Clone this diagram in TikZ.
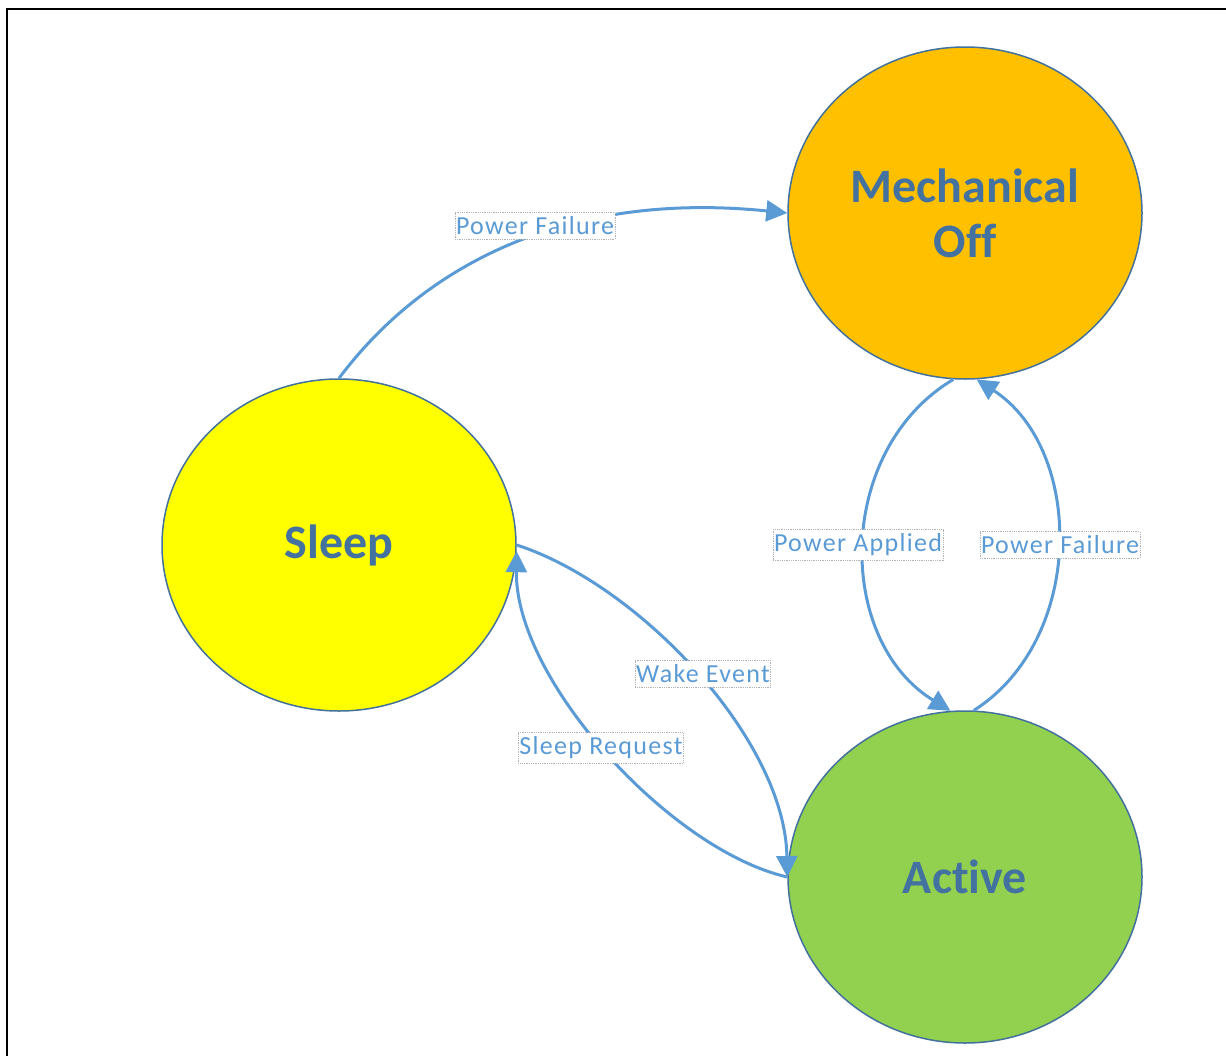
\documentclass[tikz,border=0pt]{standalone}
\usepackage{fontspec}
\setmainfont[Ligatures=NoCommon]{Carlito}
\usepackage{tikz}
\usetikzlibrary{arrows.meta,shapes.geometric,positioning}
\definecolor{statetext}{RGB}{68,114,160}
\definecolor{stateline}{RGB}{65,113,156}
\definecolor{edgeblue}{RGB}{91,155,213}
\definecolor{mechfill}{RGB}{255,192,0}
\definecolor{sleepfill}{RGB}{255,255,0}
\definecolor{activefill}{RGB}{146,208,80}

\begin{document}
\begin{tikzpicture}[x=1pt,y=-1pt,
    state/.style={ellipse,draw=stateline,line width=1.5pt,minimum width=354pt,minimum height=332pt,
      inner sep=0pt,align=center,text=statetext,font=\fontsize{48}{55}\selectfont\bfseries},
    connector/.style={-{Triangle[length=21pt,width=21pt]},draw=edgeblue,line width=3pt},
    trans/.style={draw=gray!60,densely dotted,line width=0.8pt,fill=white,text=edgeblue,
      font=\fontsize{26}{29}\selectfont\addfontfeature{LetterSpace=5},inner xsep=1pt,inner ysep=4pt,outer sep=0pt}]
    \useasboundingbox (0,0) rectangle (1226,1055);
    % frame
    \draw[line width=2.5pt] (7,1060) -- (7,9) -- (1230,9);

    % the three states
    \node (mech) [state,fill=mechfill] at (965,213) {Mechanical\\Off};
    \node (sleep) [state,fill=sleepfill] at (339,545) {Sleep};
    \node (active) [state,fill=activefill] at (965,877) {Active};

    % transitions
    \draw[connector] (sleep.north) .. controls (420,270) and (560,190) .. (mech.west);
    \draw[connector] (mech.266) .. controls (835,450) and (835,640) .. (active.95);
    \draw[connector] (active.87) .. controls (1085,640) and (1085,450) .. (mech.274);
    \draw[connector] (sleep.east) .. controls (640,585) and (785,740) .. (active.west);
    \draw[connector] (active.west) .. controls (670,850) and (515,680) .. (sleep.-2);

    % labels on top of the curves
    \node (lbl_fail_top) [trans] at (535,226) {Power Failure};
    \node (lbl_applied) [trans] at (858,545) {Power Applied};
    \node (lbl_fail_right) [trans] at (1060,545) {Power Failure};
    \node (lbl_wake) [trans] at (703,674) {Wake Event};
    \node (lbl_sleepreq) [trans] at (601,748) {Sleep Request};
\end{tikzpicture}
\end{document}
